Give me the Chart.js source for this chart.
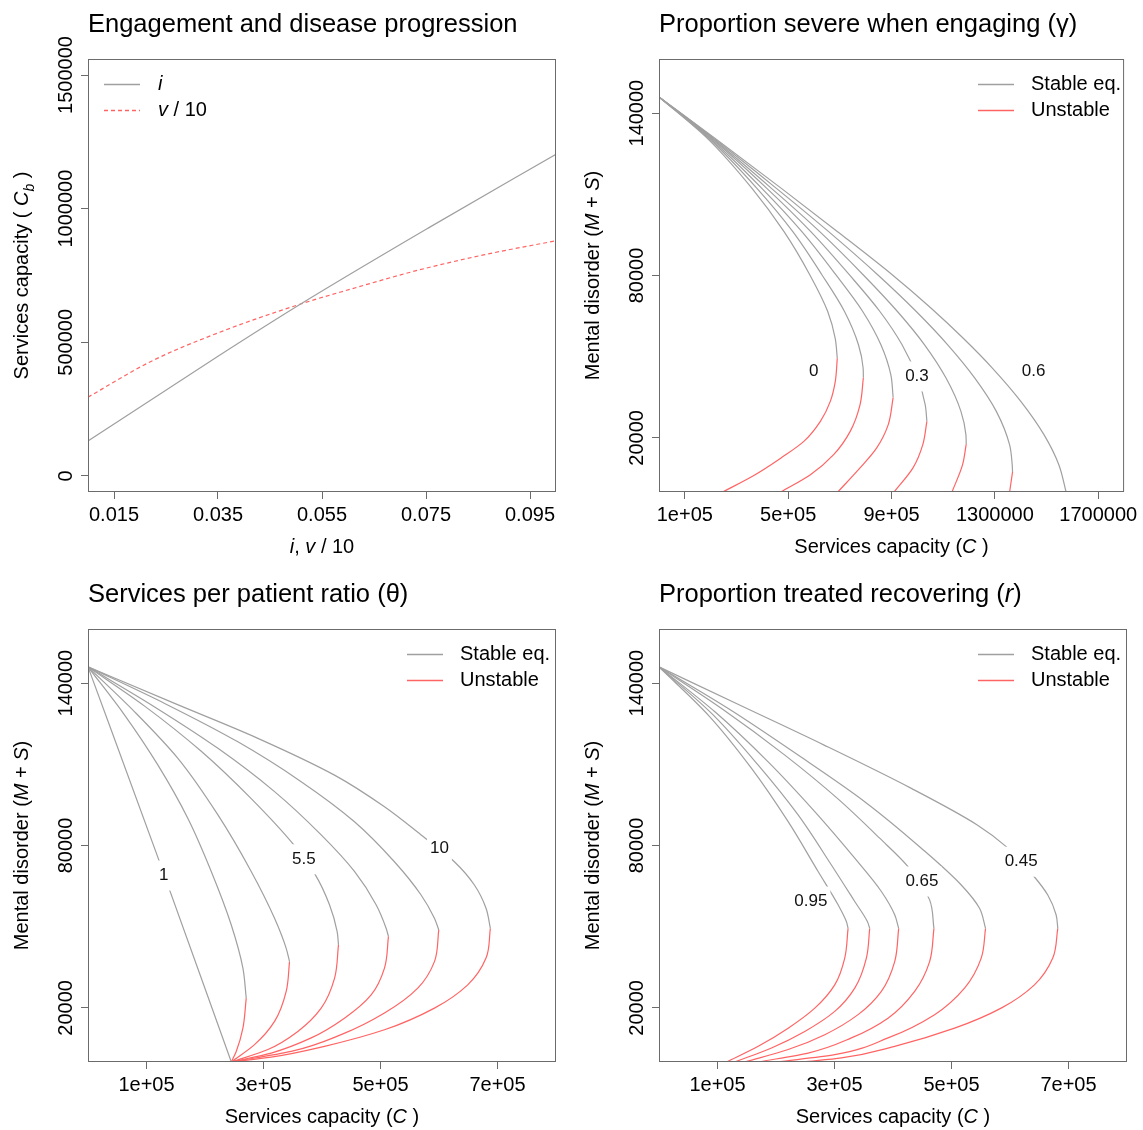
<!DOCTYPE html>
<html>
<head>
<meta charset="utf-8">
<script src="https://cdn.jsdelivr.net/npm/chart.js@4/dist/chart.umd.min.js"></script>
<style>
  body { margin: 0; background: #fff; }
  #wrap { position: relative; width: 1143px; height: 1130px; }
  canvas { position: absolute; }
</style>
</head>
<body>
<div id="wrap">
  <canvas id="c1" width="571" height="565" style="left:0;top:0"></canvas>
  <canvas id="c2" width="571" height="565" style="left:571px;top:0"></canvas>
  <canvas id="c3" width="571" height="565" style="left:0;top:570px"></canvas>
  <canvas id="c4" width="571" height="565" style="left:571px;top:570px"></canvas>
</div>
<script>
// --- Datos ---

// Panel 1: engagement (i) y progresión (v/10)
const iRate = [0.01, 0.035, 0.0509, 0.0754, 0.1];
const iCap  = [130700, 448100, 643500, 927300, 1203600];
const vRate = [0.01, 0.0222, 0.035, 0.0509, 0.0607, 0.0735, 0.0863, 0.1];
const vCap  = [295000, 429400, 535200, 643500, 700000, 770000, 828000, 880000];
const p1XTicks  = [0.015, 0.035, 0.055, 0.075, 0.095];
const p1XLabels = ['0.015', '0.035', '0.055', '0.075', '0.095'];
const p1YTicks  = [0, 500000, 1000000, 1500000];
const p1YLabels = ['0', '500000', '1000000', '1500000'];

// Panel 2: gamma = 0 .. 0.6  [C, M+S]
const gammaStable = [
  [[0,146000],[188000,130600],[360000,112200],[484000,96200],[584000,80200],[653000,66700],[682000,56800],[690000,49400]],
  [[0,146000],[193000,130600],[379000,112200],[518000,96200],[631000,80200],[718000,66700],[772000,54400],[790000,45800],[791000,42300]],
  [[0,146000],[198000,130600],[398000,112200],[553000,96200],[685000,80200],[788500,66700],[858900,54400],[897300,43300],[906200,34900]],
  [[0,146000],[203500,130600],[417300,112200],[587500,96200],[737300,80200],[855000,66700],[940800,54400],[1001000,42100],[1030400,32200],[1036800,26100]],
  [[0,146000],[207400,130600],[435200,112200],[622100,96200],[791000,80200],[922900,66700],[1027800,54400],[1111000,42100],[1168600,29800],[1187800,21200],[1189100,17700]],
  [[0,146000],[212500,130600],[454400,112200],[656600,96200],[847400,80200],[995800,66700],[1117400,54400],[1222400,42100],[1305600,29800],[1356800,17500],[1367000,10100],[1368300,7400]],
  [[0,146000],[217600,130600],[473600,112200],[691200,96200],[903700,80200],[1053400,67900],[1177600,56800],[1290200,45800],[1400300,33500],[1489900,21200],[1547500,10100],[1575700,0]]
];
const gammaUnstable = [
  [[690000,49400],[682200,40800],[663000,33500],[624600,26100],[560600,18700],[471000,12500],[368600,6200],[247000,0]],
  [[791000,42300],[778000,32200],[740000,22400],[676000,13800],[586000,6400],[471000,0]],
  [[906200,34900],[887000,24800],[842000,16200],[778000,8900],[692000,0]],
  [[1036800,26100],[1021000,17500],[983000,8900],[910000,0]],
  [[1189100,17700],[1175000,10100],[1134000,0]],
  [[1368300,7400],[1357000,0]],
  []
];
const gammaTags = [['0', 599000, 44500], ['0.3', 998400, 42700], ['0.6', 1450000, 44500]];
const p2XTicks  = [100000, 500000, 900000, 1300000, 1700000];
const p2XLabels = ['1e+05', '5e+05', '9e+05', '1300000', '1700000'];

// Panel 3: theta = 1 .. 10
const thetaStable = [
  [[0,146000],[117000,77100],[245000,0]],
  [[0,146000],[62600,128200],[119600,109700],[170800,90000],[210700,70400],[244800,50700],[264800,34700],[270500,23600]],
  [[0,146000],[79700,129400],[153700,112200],[222100,91300],[279000,70400],[318900,53100],[338800,42000],[344500,37100]],
  [[0,146000],[96800,131500],[193600,114800],[279000,97300],[351900,80200],[387200,69700],[412800,58100],[425900,48200],[428200,43300]],
  [[0,146000],[113900,131200],[222100,115900],[318900,99900],[398600,83900],[455500,70400],[492500,58100],[509600,49400],[513600,46400]],
  [[0,146000],[131000,132500],[256200,118300],[364400,103600],[455500,88800],[523800,74000],[569400,61700],[592200,53100],[599600,48800]],
  [[0,146000],[148000,132500],[290400,119600],[421400,106000],[506800,94300],[569400,83900],[626300,74000],[660500,65400],[680400,56800],[687800,49400]]
];
const thetaUnstable = [
  [],
  [[270500,23600],[264800,12500],[253400,3900],[244800,0]],
  [[344500,37100],[338800,26100],[318900,15000],[284700,6400],[244800,0]],
  [[428200,43300],[421400,30900],[398600,19900],[358700,11300],[307500,4600],[244800,0]],
  [[513600,46400],[506800,34700],[484000,24800],[438400,16200],[381500,8900],[313200,3300],[244800,0]],
  [[599600,48800],[592200,37100],[563700,27300],[506800,18100],[432700,10100],[347300,3900],[244800,0]],
  [[687800,49400],[680400,38400],[649100,28500],[592200,19900],[506800,11900],[404300,5800],[313200,1800],[244800,0]]
];
const thetaTags = [['1', 129300, 68900], ['5.5', 369000, 74900], ['10', 600700, 79000]];

// Panel 4: r = 0.45 .. 0.95
const rStable = [
  [[0,146000],[137700,131900],[282200,117100],[431300,101100],[544000,87600],[593500,79600],[639000,69100],[664600,61700],[678800,54400],[681700,49400]],
  [[0,146000],[118400,130600],[237800,113400],[351600,96200],[448400,79000],[516700,65400],[547900,56800],[558200,49400]],
  [[0,146000],[107000,130600],[215100,113400],[305000,97400],[377200,82700],[425600,72200],[462600,59900],[470000,49400]],
  [[0,146000],[95600,129400],[186600,110900],[266300,92500],[334600,75300],[380100,63000],[402900,54400],[409700,49400]],
  [[0,146000],[89900,128800],[169600,109700],[237800,91300],[294700,72800],[334600,59300],[356200,51900],[360200,49400]],
  [[0,146000],[84200,128200],[158200,108500],[220800,88800],[272000,70400],[306100,58100],[320300,51900],[323200,49400]]
];
const rUnstable = [
  [[681700,49400],[673100,38400],[641800,28500],[584900,19900],[505300,12500],[402900,5800],[311800,1500],[246400,0]],
  [[558200,49400],[550800,38400],[522300,27300],[471100,17500],[391500,8900],[300400,2700],[200900,0]],
  [[470000,49400],[462600,37100],[437000,26100],[391500,16200],[328900,8900],[254900,3300],[169600,0]],
  [[409700,49400],[402900,37100],[380100,26100],[340300,17500],[283400,10100],[220800,4600],[146800,0]],
  [[360200,49400],[354500,38400],[334600,27300],[300400,18700],[249200,11300],[192300,5200],[129700,0]],
  [[323200,49400],[317500,38400],[300400,28500],[266300,19900],[220800,12500],[169600,5800],[115500,0]]
];
const rTags = [['0.95', 259500, 59300], ['0.65', 449500, 66700], ['0.45', 619100, 74000]];

const p34XTicks  = [100000, 300000, 500000, 700000];
const p34XLabels = ['1e+05', '3e+05', '5e+05', '7e+05'];
const msYTicks   = [20000, 80000, 140000];
const msYLabels  = ['20000', '80000', '140000'];

// --- Estilo ---
const FONT = '"Liberation Sans", Arial, Helvetica, sans-serif';
const GRAY = '#a0a0a0';
const RED  = '#ff6464';
const BOX  = '#6b6b6b';

function fontFor(style, size) {
  if (style === 'i') return `italic ${size}px ${FONT}`;
  if (style === 's') return `italic ${Math.round(size * 0.72)}px ${FONT}`;
  return `${size}px ${FONT}`;
}

// texto con tramos en cursiva / subíndice
function rich(ctx, segs, x, y, size, align) {
  let w = 0;
  segs.forEach(([t, s]) => { ctx.font = fontFor(s, size); w += ctx.measureText(t).width; });
  let cx = align === 'center' ? x - w / 2 : x;
  ctx.textAlign = 'left';
  segs.forEach(([t, s]) => {
    ctx.font = fontFor(s, size);
    ctx.fillText(t, cx, s === 's' ? y + size * 0.28 : y);
    cx += ctx.measureText(t).width;
  });
}

function line(pts, color, dash) {
  return {
    data: pts.map(p => ({ x: p[0], y: p[1] })),
    borderColor: color, borderWidth: 1.2, borderDash: dash || [],
    pointRadius: 0, fill: false, cubicInterpolationMode: 'monotone'
  };
}

function curveSets(stable, unstable) {
  const ds = [];
  stable.forEach(c => ds.push(line(c, GRAY)));
  unstable.forEach(c => { if (c.length) ds.push(line(c, RED)); });
  return ds;
}

const decor = {
  id: 'decor',
  afterDatasetsDraw(chart, args, o) {
    const ctx = chart.ctx, a = chart.chartArea;
    const sx = chart.scales.x, sy = chart.scales.y;
    ctx.save();
    ctx.fillStyle = '#000';

    // etiquetas sobre las curvas (con hueco blanco)
    ctx.font = `17px ${FONT}`;
    ctx.textBaseline = 'middle';
    ctx.textAlign = 'center';
    (o.tags || []).forEach(([t, x, y]) => {
      const px = sx.getPixelForValue(x), py = sy.getPixelForValue(y);
      const w = ctx.measureText(t).width + 6;
      ctx.fillStyle = '#fff';
      ctx.fillRect(px - w / 2, py - 15, w, 30);
      ctx.fillStyle = '#111';
      ctx.fillText(t, px, py);
    });

    // caja
    ctx.strokeStyle = BOX; ctx.lineWidth = 1;
    ctx.strokeRect(a.left + 0.5, a.top + 0.5, a.right - a.left - 1, a.bottom - a.top - 1);

    // etiquetas eje y (verticales, como en R)
    ctx.fillStyle = '#000';
    ctx.font = `20px ${FONT}`;
    ctx.textBaseline = 'alphabetic';
    sy.ticks.forEach((t, k) => {
      ctx.save();
      ctx.translate(72, sy.getPixelForValue(t.value));
      ctx.rotate(-Math.PI / 2);
      ctx.textAlign = 'center';
      ctx.fillText(o.yLabels[k], 0, 0);
      ctx.restore();
    });

    // título
    rich(ctx, o.title, a.left, 32, 25.5, 'left');

    // títulos de ejes
    rich(ctx, o.xTitle, (a.left + a.right) / 2, 553, 20, 'center');
    ctx.save();
    ctx.translate(28, (a.top + a.bottom) / 2);
    ctx.rotate(-Math.PI / 2);
    rich(ctx, o.yTitle, 0, 0, 20, 'center');
    ctx.restore();

    // leyenda
    const L = o.legend;
    ctx.textBaseline = 'middle';
    L.items.forEach((it, k) => {
      const y = L.y + k * 26;
      ctx.strokeStyle = it.color; ctx.lineWidth = 1.3;
      ctx.setLineDash(it.dash || []);
      ctx.beginPath(); ctx.moveTo(L.x0, y + 0.5); ctx.lineTo(L.x1, y + 0.5); ctx.stroke();
      ctx.setLineDash([]);
      ctx.fillStyle = '#000';
      rich(ctx, it.text, L.tx, y, 20, 'left');
    });
    ctx.restore();
  }
};

function makeChart(id, p) {
  const tickFont = { family: FONT, size: 20 };
  const grid = { display: true, drawOnChartArea: false, drawTicks: true, tickLength: 7, color: BOX, lineWidth: 1 };
  return new Chart(document.getElementById(id), {
    type: 'line',
    data: { datasets: p.datasets },
    plugins: [decor],
    options: {
      indexAxis: p.indexAxis,
      responsive: false, animation: false, devicePixelRatio: 1,
      layout: { padding: { top: 59, right: 15, left: 0, bottom: 0 } },
      plugins: {
        legend: { display: false }, title: { display: false }, tooltip: { enabled: false },
        decor: { title: p.title, xTitle: p.xTitle, yTitle: p.yTitle, yLabels: p.yLabels, legend: p.legend, tags: p.tags }
      },
      scales: {
        x: {
          type: 'linear', axis: 'x', position: 'bottom', min: p.xMin, max: p.xMax,
          afterBuildTicks: s => { s.ticks = p.xTicks.map(v => ({ value: v })); },
          afterFit: s => { s.height = 73; },
          grid, border: { display: false },
          ticks: { font: tickFont, color: '#000', padding: 4, maxRotation: 0, autoSkip: false,
                   callback: (v, k) => p.xLabels[k] }
        },
        y: {
          type: 'linear', axis: 'y', position: 'left', min: p.yMin, max: p.yMax,
          afterBuildTicks: s => { s.ticks = p.yTicks.map(v => ({ value: v })); },
          afterFit: s => { s.width = 88; },
          grid, border: { display: false },
          ticks: { display: false }
        }
      }
    }
  });
}

const legendLeft = (items) => ({ x0: 104, x1: 140, tx: 158, y: 84, items });
const legendRight = (items) => ({ x0: 407, x1: 443, tx: 460, y: 84, items });
const stableLegend = [
  { text: [['Stable eq.', 'n']], color: GRAY },
  { text: [['Unstable', 'n']], color: RED }
];
const capTitle = [['Services capacity (', 'n'], ['C', 'i'], [' )', 'n']];
const msTitle = [['Mental disorder (', 'n'], ['M', 'i'], [' + ', 'n'], ['S', 'i'], [')', 'n']];

makeChart('c1', {
  indexAxis: 'x',
  datasets: [
    line(iRate.map((x, k) => [x, iCap[k]]), GRAY),
    line(vRate.map((x, k) => [x, vCap[k]]), RED, [4, 3])
  ],
  xMin: 0.01, xMax: 0.1, yMin: -60000, yMax: 1560000,
  xTicks: p1XTicks, xLabels: p1XLabels, yTicks: p1YTicks, yLabels: p1YLabels,
  title: [['Engagement and disease progression', 'n']],
  xTitle: [['i', 'i'], [', ', 'n'], ['v', 'i'], [' / ', 'n'], ['10', 'n']],
  yTitle: [['Services capacity ( ', 'n'], ['C', 'i'], ['b', 's'], [' )', 'n']],
  legend: legendLeft([
    { text: [['i', 'i']], color: GRAY },
    { text: [['v', 'i'], [' / ', 'n'], ['10', 'n']], color: RED, dash: [4, 3] }
  ]),
  tags: []
});

makeChart('c2', {
  indexAxis: 'y',
  datasets: curveSets(gammaStable, gammaUnstable),
  xMin: 0, xMax: 1800000, yMin: 0, yMax: 160000,
  xTicks: p2XTicks, xLabels: p2XLabels, yTicks: msYTicks, yLabels: msYLabels,
  title: [['Proportion severe when engaging (\u03b3)', 'n']],
  xTitle: capTitle, yTitle: msTitle,
  legend: legendRight(stableLegend),
  tags: gammaTags
});

makeChart('c3', {
  indexAxis: 'y',
  datasets: curveSets(thetaStable, thetaUnstable),
  xMin: 0, xMax: 800000, yMin: 0, yMax: 160000,
  xTicks: p34XTicks, xLabels: p34XLabels, yTicks: msYTicks, yLabels: msYLabels,
  title: [['Services per patient ratio (\u03b8)', 'n']],
  xTitle: capTitle, yTitle: msTitle,
  legend: legendRight(stableLegend),
  tags: thetaTags
});

makeChart('c4', {
  indexAxis: 'y',
  datasets: curveSets(rStable, rUnstable),
  xMin: 0, xMax: 800000, yMin: 0, yMax: 160000,
  xTicks: p34XTicks, xLabels: p34XLabels, yTicks: msYTicks, yLabels: msYLabels,
  title: [['Proportion treated recovering (', 'n'], ['r', 'i'], [')', 'n']],
  xTitle: capTitle, yTitle: msTitle,
  legend: legendRight(stableLegend),
  tags: rTags
});
</script>
</body>
</html>
